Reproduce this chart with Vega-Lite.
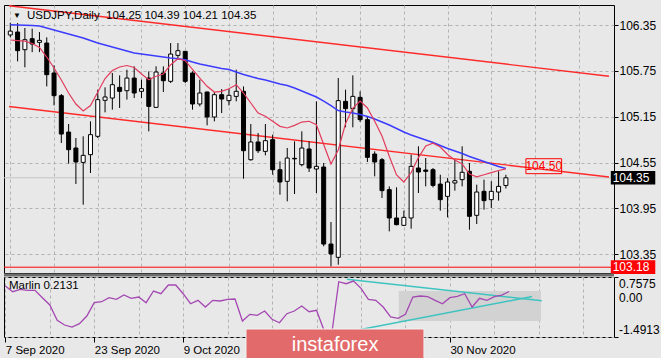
{
  "$schema": "https://vega.github.io/schema/vega-lite/v6.json",
  "background": "#e8e8e8",
  "padding": {"left": 2, "top": 2, "right": 0, "bottom": 0},
  "config": {"view": {"stroke": "#000000", "strokeWidth": 1}, "font": "Liberation Sans"},
  "datasets": {
    "one": [{}],
    "ohlc": [
      {"i":0,"o":106.22,"h":106.38,"l":106.19,"c":106.27,"f":106.154,"s":106.355,"m":0.42},
      {"i":1,"o":106.258,"h":106.376,"l":105.874,"c":106.014,"f":106.145,"s":106.351,"m":0.206},
      {"i":2,"o":106.027,"h":106.311,"l":105.796,"c":106.158,"f":106.138,"s":106.347,"m":0.296},
      {"i":3,"o":106.171,"h":106.302,"l":105.995,"c":106.101,"f":106.108,"s":106.343,"m":0.259},
      {"i":4,"o":106.123,"h":106.258,"l":105.995,"c":106.149,"f":106.056,"s":106.337,"m":0.259},
      {"i":5,"o":106.114,"h":106.189,"l":105.547,"c":105.70,"f":105.931,"s":106.311,"m":-0.019},
      {"i":6,"o":105.722,"h":105.822,"l":105.298,"c":105.425,"f":105.787,"s":106.285,"m":-0.292},
      {"i":7,"o":105.425,"h":105.447,"l":104.806,"c":104.923,"f":105.63,"s":106.258,"m":-0.866},
      {"i":8,"o":104.949,"h":105.054,"l":104.535,"c":104.718,"f":105.46,"s":106.232,"m":-1.042},
      {"i":9,"o":104.74,"h":104.871,"l":104.269,"c":104.557,"f":105.316,"s":106.206,"m":-1.117},
      {"i":10,"o":104.552,"h":104.893,"l":103.998,"c":104.644,"f":105.224,"s":106.18,"m":-0.993},
      {"i":11,"o":104.653,"h":105.089,"l":104.413,"c":104.915,"f":105.296,"s":106.147,"m":-0.705},
      {"i":12,"o":104.893,"h":105.504,"l":104.871,"c":105.373,"f":105.473,"s":106.114,"m":-0.206},
      {"i":13,"o":105.364,"h":105.534,"l":105.207,"c":105.408,"f":105.65,"s":106.088,"m":-0.169},
      {"i":14,"o":105.394,"h":105.722,"l":105.242,"c":105.569,"f":105.754,"s":106.062,"m":-0.019},
      {"i":15,"o":105.534,"h":105.691,"l":105.264,"c":105.482,"f":105.80,"s":106.036,"m":-0.079},
      {"i":16,"o":105.49,"h":105.765,"l":105.373,"c":105.656,"f":105.82,"s":106.01,"m":0.082},
      {"i":17,"o":105.656,"h":105.809,"l":105.394,"c":105.46,"f":105.794,"s":105.984,"m":-0.041},
      {"i":18,"o":105.482,"h":105.634,"l":105.394,"c":105.517,"f":105.709,"s":105.97,"m":0.007},
      {"i":19,"o":105.656,"h":105.743,"l":104.958,"c":105.285,"f":105.634,"s":105.957,"m":-0.206},
      {"i":20,"o":105.272,"h":105.809,"l":105.264,"c":105.735,"f":105.679,"s":105.944,"m":0.232},
      {"i":21,"o":105.722,"h":105.809,"l":105.473,"c":105.621,"f":105.709,"s":105.931,"m":0.131},
      {"i":22,"o":105.613,"h":106.114,"l":105.591,"c":105.97,"f":105.83,"s":105.918,"m":0.457},
      {"i":23,"o":105.953,"h":106.114,"l":105.909,"c":106.014,"f":105.909,"s":105.909,"m":0.457},
      {"i":24,"o":106.005,"h":106.01,"l":105.591,"c":105.613,"f":105.883,"s":105.896,"m":0.131},
      {"i":25,"o":105.722,"h":105.743,"l":105.242,"c":105.316,"f":105.768,"s":105.866,"m":-0.244},
      {"i":26,"o":105.316,"h":105.634,"l":105.285,"c":105.46,"f":105.656,"s":105.84,"m":-0.116},
      {"i":27,"o":105.473,"h":105.478,"l":105.037,"c":105.146,"f":105.548,"s":105.82,"m":-0.367},
      {"i":28,"o":105.146,"h":105.473,"l":105.089,"c":105.438,"f":105.473,"s":105.80,"m":-0.116},
      {"i":29,"o":105.438,"h":105.512,"l":105.198,"c":105.381,"f":105.482,"s":105.781,"m":-0.142},
      {"i":30,"o":105.36,"h":105.512,"l":105.298,"c":105.43,"f":105.516,"s":105.768,"m":-0.079},
      {"i":31,"o":105.416,"h":105.765,"l":105.351,"c":105.482,"f":105.569,"s":105.735,"m":-0.067},
      {"i":32,"o":105.482,"h":105.547,"l":104.339,"c":104.705,"f":105.46,"s":105.702,"m":-0.892},
      {"i":33,"o":104.587,"h":105.054,"l":104.574,"c":104.819,"f":105.329,"s":105.676,"m":-0.641},
      {"i":34,"o":104.819,"h":104.936,"l":104.675,"c":104.705,"f":105.198,"s":105.65,"m":-0.678},
      {"i":35,"o":104.696,"h":105.054,"l":104.644,"c":104.836,"f":105.155,"s":105.63,"m":-0.517},
      {"i":36,"o":104.849,"h":104.915,"l":104.391,"c":104.456,"f":105.09,"s":105.604,"m":-0.828},
      {"i":37,"o":104.456,"h":104.566,"l":104.129,"c":104.295,"f":105.024,"s":105.578,"m":-0.956},
      {"i":38,"o":104.304,"h":104.74,"l":104.042,"c":104.609,"f":105.002,"s":105.558,"m":-0.618},
      {"i":39,"o":104.605,"h":104.827,"l":104.138,"c":104.598,"f":105.037,"s":105.525,"m":-0.517},
      {"i":40,"o":104.522,"h":104.958,"l":104.5,"c":104.74,"f":105.08,"s":105.486,"m":-0.33},
      {"i":41,"o":104.727,"h":104.827,"l":104.426,"c":104.478,"f":105.09,"s":105.447,"m":-0.543},
      {"i":42,"o":104.465,"h":105.351,"l":104.151,"c":104.5,"f":105.045,"s":105.408,"m":-0.491},
      {"i":43,"o":104.491,"h":104.544,"l":103.453,"c":103.483,"f":104.786,"s":105.355,"m":-1.23},
      {"i":44,"o":103.483,"h":103.771,"l":103.191,"c":103.353,"f":104.531,"s":105.296,"m":-1.4913},
      {"i":45,"o":103.309,"h":105.656,"l":103.213,"c":105.36,"f":104.714,"s":105.231,"m":0.581},
      {"i":46,"o":105.351,"h":105.504,"l":105.011,"c":105.255,"f":105.061,"s":105.211,"m":0.506},
      {"i":47,"o":105.255,"h":105.691,"l":105.011,"c":105.416,"f":105.264,"s":105.198,"m":0.607},
      {"i":48,"o":105.403,"h":105.482,"l":105.08,"c":105.111,"f":105.355,"s":105.179,"m":0.334},
      {"i":49,"o":105.111,"h":105.154,"l":104.557,"c":104.618,"f":105.264,"s":105.152,"m":-0.079},
      {"i":50,"o":104.661,"h":104.696,"l":104.369,"c":104.557,"f":105.09,"s":105.12,"m":-0.116},
      {"i":51,"o":104.587,"h":104.609,"l":104.086,"c":104.182,"f":104.897,"s":105.08,"m":-0.367},
      {"i":52,"o":104.195,"h":104.238,"l":103.649,"c":103.824,"f":104.632,"s":105.041,"m":-0.742},
      {"i":53,"o":103.824,"h":104.225,"l":103.728,"c":103.737,"f":104.387,"s":104.995,"m":-0.791},
      {"i":54,"o":103.728,"h":103.92,"l":103.719,"c":103.832,"f":104.295,"s":104.949,"m":-0.641},
      {"i":55,"o":103.824,"h":104.653,"l":103.684,"c":104.5,"f":104.419,"s":104.91,"m":0.007},
      {"i":56,"o":104.478,"h":104.762,"l":104.151,"c":104.426,"f":104.615,"s":104.877,"m":0.045},
      {"i":57,"o":104.452,"h":104.609,"l":104.238,"c":104.435,"f":104.766,"s":104.845,"m":0.019},
      {"i":58,"o":104.456,"h":104.478,"l":104.225,"c":104.251,"f":104.803,"s":104.812,"m":-0.116},
      {"i":59,"o":104.268,"h":104.391,"l":103.92,"c":104.064,"f":104.753,"s":104.773,"m":-0.244},
      {"i":60,"o":104.107,"h":104.347,"l":103.832,"c":104.295,"f":104.655,"s":104.733,"m":-0.019},
      {"i":61,"o":104.282,"h":104.587,"l":104.182,"c":104.312,"f":104.583,"s":104.70,"m":0.034},
      {"i":62,"o":104.326,"h":104.762,"l":104.238,"c":104.422,"f":104.531,"s":104.668,"m":0.131},
      {"i":63,"o":104.435,"h":104.544,"l":103.671,"c":103.846,"f":104.40,"s":104.629,"m":-0.367},
      {"i":64,"o":103.859,"h":104.26,"l":103.745,"c":104.164,"f":104.363,"s":104.596,"m":-0.041},
      {"i":65,"o":104.173,"h":104.326,"l":103.933,"c":104.051,"f":104.39,"s":104.563,"m":-0.116},
      {"i":66,"o":104.064,"h":104.304,"l":103.954,"c":104.173,"f":104.417,"s":104.53,"m":0.019},
      {"i":67,"o":104.164,"h":104.435,"l":104.051,"c":104.238,"f":104.446,"s":104.498,"m":0.082},
      {"i":68,"o":104.25,"h":104.39,"l":104.21,"c":104.35,"f":104.468,"s":104.472,"m":0.2131}
    ],
    "chan": [
      {"i":-0.18,"p":106.603,"g":"u"},{"i":82.15,"p":105.68,"g":"u"},
      {"i":-0.18,"p":105.283,"g":"d"},{"i":82.15,"p":104.36,"g":"d"}
    ],
    "tl": [
      {"i":46.1,"v":0.671,"g":"a"},{"i":72.4,"v":-0.131,"g":"a"},
      {"i":44.1,"v":-1.417,"g":"b"},{"i":71.1,"v":0.026,"g":"b"}
    ],
    "box": [{"i1":53.1,"i2":72.3,"v1":0.232,"v2":-0.892}]
  },
  "vconcat": [
    {
      "width": 610,
      "height": 268,
      "layer": [
        {
          "data": {"name": "one"},
          "mark": {"type": "rule", "color": "#c4c4c4", "strokeWidth": 1},
          "encoding": {
            "y": {"datum": 104.35, "type": "quantitative", "title": null,
              "scale": {"domain": [103.104, 106.612], "nice": false, "zero": false},
              "axis": {"orient": "right", "values": [106.35, 105.75, 105.15, 104.55, 103.95, 103.35], "format": ".2f",
                "labelFont": "Liberation Sans", "labelFontSize": 12, "labelColor": "#000000", "labelPadding": 1,
                "tickSize": 4, "tickColor": "#000000", "grid": true, "gridDash": [3, 3], "gridColor": "#b3b3b3",
                "domain": false, "title": null, "labelOverlap": false}}
          }
        },
        {
          "data": {"name": "one"},
          "mark": {"type": "rule", "color": "#ff0000", "strokeWidth": 1},
          "encoding": {"y": {"datum": 103.18, "type": "quantitative", "title": null, "scale": {"domain": [103.104, 106.612], "nice": false, "zero": false}}}
        },
        {
          "data": {"name": "chan"},
          "mark": {"type": "line", "color": "#ff2a2a", "strokeWidth": 1.4},
          "encoding": {
            "x": {"field": "i", "type": "quantitative", "title": null,
              "scale": {"domain": [-0.18, 82.15], "nice": false, "zero": false},
              "axis": {"values": [0,6,12,18,24,30,36,42,48,54,60,66,72,78], "labels": false, "ticks": false, "domain": false,
                "grid": true, "gridDash": [3, 3], "gridColor": "#b3b3b3", "title": null}},
            "y": {"field": "p", "type": "quantitative", "title": null, "scale": {"domain": [103.104, 106.612], "nice": false, "zero": false}},
            "detail": {"field": "g"}
          }
        },
        {
          "data": {"name": "ohlc"},
          "mark": {"type": "rule", "color": "#000000", "strokeWidth": 1},
          "encoding": {
            "x": {"field": "i", "type": "quantitative", "title": null, "scale": {"domain": [-0.18, 82.15], "nice": false, "zero": false}},
            "y": {"field": "l", "type": "quantitative", "title": null, "scale": {"domain": [103.104, 106.612], "nice": false, "zero": false}},
            "y2": {"field": "h"}
          }
        },
        {
          "data": {"name": "ohlc"},
          "mark": {"type": "bar", "size": 4, "stroke": "#000000", "strokeWidth": 1},
          "encoding": {
            "x": {"field": "i", "type": "quantitative", "title": null, "scale": {"domain": [-0.18, 82.15], "nice": false, "zero": false}},
            "y": {"field": "o", "type": "quantitative", "title": null, "scale": {"domain": [103.104, 106.612], "nice": false, "zero": false}},
            "y2": {"field": "c"},
            "fill": {"condition": {"test": "datum.c < datum.o", "value": "#000000"}, "value": "#ffffff"}
          }
        },
        {
          "data": {"name": "ohlc"},
          "mark": {"type": "line", "color": "#3c3cff", "strokeWidth": 1.5},
          "encoding": {
            "x": {"field": "i", "type": "quantitative", "title": null, "scale": {"domain": [-0.18, 82.15], "nice": false, "zero": false}},
            "y": {"field": "s", "type": "quantitative", "title": null, "scale": {"domain": [103.104, 106.612], "nice": false, "zero": false}}
          }
        },
        {
          "data": {"name": "ohlc"},
          "mark": {"type": "line", "color": "#e33b5c", "strokeWidth": 1.2},
          "encoding": {
            "x": {"field": "i", "type": "quantitative", "title": null, "scale": {"domain": [-0.18, 82.15], "nice": false, "zero": false}},
            "y": {"field": "f", "type": "quantitative", "title": null, "scale": {"domain": [103.104, 106.612], "nice": false, "zero": false}}
          }
        },
        {
          "data": {"name": "one"},
          "mark": {"type": "rect", "fillOpacity": 0, "stroke": "#ff0000", "strokeWidth": 1},
          "encoding": {
            "x": {"datum": 70.75, "type": "quantitative", "title": null, "scale": {"domain": [-0.18, 82.15], "nice": false, "zero": false}},
            "x2": {"datum": 75.65},
            "y": {"datum": 104.404, "type": "quantitative", "title": null, "scale": {"domain": [103.104, 106.612], "nice": false, "zero": false}},
            "y2": {"datum": 104.60}
          }
        },
        {
          "data": {"name": "one"},
          "mark": {"type": "text", "text": "104.50", "color": "#ff0000", "font": "Liberation Sans", "fontSize": 12, "align": "center", "baseline": "middle"},
          "encoding": {
            "x": {"datum": 73.2, "type": "quantitative", "title": null, "scale": {"domain": [-0.18, 82.15], "nice": false, "zero": false}},
            "y": {"datum": 104.50, "type": "quantitative", "title": null, "scale": {"domain": [103.104, 106.612], "nice": false, "zero": false}}
          }
        },
        {
          "data": {"name": "one"},
          "mark": {"type": "rect", "fill": "#000000", "clip": false},
          "encoding": {
            "x": {"datum": 82.4, "type": "quantitative", "title": null, "scale": {"domain": [-0.18, 82.15], "nice": false, "zero": false}},
            "x2": {"datum": 88.5},
            "y": {"datum": 104.262, "type": "quantitative", "title": null, "scale": {"domain": [103.104, 106.612], "nice": false, "zero": false}},
            "y2": {"datum": 104.438}
          }
        },
        {
          "data": {"name": "one"},
          "mark": {"type": "text", "text": "104.35", "color": "#ffffff", "font": "Liberation Sans", "fontSize": 12, "align": "left", "baseline": "middle", "clip": false},
          "encoding": {
            "x": {"datum": 82.65, "type": "quantitative", "title": null, "scale": {"domain": [-0.18, 82.15], "nice": false, "zero": false}},
            "y": {"datum": 104.35, "type": "quantitative", "title": null, "scale": {"domain": [103.104, 106.612], "nice": false, "zero": false}}
          }
        },
        {
          "data": {"name": "one"},
          "mark": {"type": "rect", "fill": "#ff0000", "clip": false},
          "encoding": {
            "x": {"datum": 82.4, "type": "quantitative", "title": null, "scale": {"domain": [-0.18, 82.15], "nice": false, "zero": false}},
            "x2": {"datum": 88.5},
            "y": {"datum": 103.09, "type": "quantitative", "title": null, "scale": {"domain": [103.104, 106.612], "nice": false, "zero": false}},
            "y2": {"datum": 103.27}
          }
        },
        {
          "data": {"name": "one"},
          "mark": {"type": "text", "text": "103.18", "color": "#ffffff", "font": "Liberation Sans", "fontSize": 12, "align": "left", "baseline": "middle", "clip": false},
          "encoding": {
            "x": {"datum": 82.65, "type": "quantitative", "title": null, "scale": {"domain": [-0.18, 82.15], "nice": false, "zero": false}},
            "y": {"datum": 103.18, "type": "quantitative", "title": null, "scale": {"domain": [103.104, 106.612], "nice": false, "zero": false}}
          }
        },
        {
          "data": {"name": "one"},
          "mark": {"type": "text", "text": "▼", "color": "#000000", "fontSize": 8, "align": "left", "baseline": "middle", "dx": 4},
          "encoding": {
            "x": {"datum": -0.18, "type": "quantitative", "title": null, "scale": {"domain": [-0.18, 82.15], "nice": false, "zero": false}},
            "y": {"datum": 106.47, "type": "quantitative", "title": null, "scale": {"domain": [103.104, 106.612], "nice": false, "zero": false}}
          }
        },
        {
          "data": {"name": "one"},
          "mark": {"type": "text", "text": "USDJPY,Daily\u00a0\u00a0104.25 104.39 104.21 104.35", "color": "#000000", "font": "Liberation Sans", "fontSize": 11.5, "align": "left", "baseline": "middle", "dx": 18},
          "encoding": {
            "x": {"datum": -0.18, "type": "quantitative", "title": null, "scale": {"domain": [-0.18, 82.15], "nice": false, "zero": false}},
            "y": {"datum": 106.47, "type": "quantitative", "title": null, "scale": {"domain": [103.104, 106.612], "nice": false, "zero": false}}
          }
        }
      ]
    },
    {
      "width": 610,
      "height": 60,
      "layer": [
        {
          "data": {"name": "box"},
          "mark": {"type": "rect", "fill": "#d2d2d2"},
          "encoding": {
            "x": {"field": "i1", "type": "quantitative", "title": null,
              "scale": {"domain": [-0.18, 82.15], "nice": false, "zero": false},
              "axis": {"orient": "bottom", "values": [0,6,12,18,24,30,36,42,48,54,60,66,72,78],
                "labelExpr": "datum.value==0?'7 Sep 2020':datum.value==12?'23 Sep 2020':datum.value==24?'9 Oct 2020':datum.value==60?'30 Nov 2020':''",
                "labelAlign": "left", "labelFont": "Liberation Sans", "labelFontSize": 11.5, "labelColor": "#000000",
                "labelPadding": 2, "labelOverlap": false, "labelBound": false, "tickSize": 5, "tickColor": "#000000",
                "tickOpacity": {"condition": {"test": "datum.value == 0 || datum.value == 12 || datum.value == 24 || datum.value == 60", "value": 1}, "value": 0},
                "grid": true, "gridDash": [3, 3], "gridColor": "#b3b3b3", "domain": false, "title": null}},
            "x2": {"field": "i2"},
            "y": {"field": "v1", "type": "quantitative", "title": null,
              "scale": {"domain": [-1.4913, 0.7575], "nice": false, "zero": false},
              "axis": {"orient": "right", "values": [0.7575, 0, -1.4913], "labels": false,
                "tickSize": 4, "tickColor": "#000000", "grid": true, "gridDash": [3, 3], "gridColor": "#b3b3b3",
                "domain": false, "title": null}},
            "y2": {"field": "v2"}
          }
        },
        {
          "data": {"name": "tl"},
          "mark": {"type": "line", "color": "#3ec4c0", "strokeWidth": 1.5, "clip": true},
          "encoding": {
            "x": {"field": "i", "type": "quantitative", "title": null, "scale": {"domain": [-0.18, 82.15], "nice": false, "zero": false}},
            "y": {"field": "v", "type": "quantitative", "title": null, "scale": {"domain": [-1.4913, 0.7575], "nice": false, "zero": false}},
            "detail": {"field": "g"}
          }
        },
        {
          "data": {"name": "ohlc"},
          "mark": {"type": "line", "color": "#a448b2", "strokeWidth": 1.3},
          "encoding": {
            "x": {"field": "i", "type": "quantitative", "title": null, "scale": {"domain": [-0.18, 82.15], "nice": false, "zero": false}},
            "y": {"field": "m", "type": "quantitative", "title": null, "scale": {"domain": [-1.4913, 0.7575], "nice": false, "zero": false}}
          }
        },
        {
          "data": {"name": "one"},
          "mark": {"type": "text", "text": "Marlin 0.2131", "color": "#000000", "font": "Liberation Sans", "fontSize": 11.5, "align": "left", "baseline": "middle", "dx": 5},
          "encoding": {
            "x": {"datum": -0.18, "type": "quantitative", "title": null, "scale": {"domain": [-0.18, 82.15], "nice": false, "zero": false}},
            "y": {"datum": 0.42, "type": "quantitative", "title": null, "scale": {"domain": [-1.4913, 0.7575], "nice": false, "zero": false}}
          }
        },
        {
          "data": {"name": "one"},
          "mark": {"type": "text", "text": "0.7575", "color": "#000000", "font": "Liberation Sans", "fontSize": 12, "align": "left", "baseline": "top", "dx": 5, "dy": 2, "clip": false},
          "encoding": {
            "x": {"datum": 82.15, "type": "quantitative", "title": null, "scale": {"domain": [-0.18, 82.15], "nice": false, "zero": false}},
            "y": {"datum": 0.7575, "type": "quantitative", "title": null, "scale": {"domain": [-1.4913, 0.7575], "nice": false, "zero": false}}
          }
        },
        {
          "data": {"name": "one"},
          "mark": {"type": "text", "text": "0.00", "color": "#000000", "font": "Liberation Sans", "fontSize": 12, "align": "left", "baseline": "middle", "dx": 5, "dy": 1, "clip": false},
          "encoding": {
            "x": {"datum": 82.15, "type": "quantitative", "title": null, "scale": {"domain": [-0.18, 82.15], "nice": false, "zero": false}},
            "y": {"datum": 0, "type": "quantitative", "title": null, "scale": {"domain": [-1.4913, 0.7575], "nice": false, "zero": false}}
          }
        },
        {
          "data": {"name": "one"},
          "mark": {"type": "text", "text": "-1.4913", "color": "#000000", "font": "Liberation Sans", "fontSize": 12, "align": "left", "baseline": "bottom", "dx": 5, "dy": 0, "clip": false},
          "encoding": {
            "x": {"datum": 82.15, "type": "quantitative", "title": null, "scale": {"domain": [-0.18, 82.15], "nice": false, "zero": false}},
            "y": {"datum": -1.4913, "type": "quantitative", "title": null, "scale": {"domain": [-1.4913, 0.7575], "nice": false, "zero": false}}
          }
        },
        {
          "data": {"name": "one"},
          "mark": {"type": "rule", "color": "#6e6e6e", "strokeWidth": 3, "yOffset": -2},
          "encoding": {"y": {"datum": 0.7575, "type": "quantitative", "title": null, "scale": {"domain": [-1.4913, 0.7575], "nice": false, "zero": false}}}
        },
        {
          "data": {"name": "one"},
          "mark": {"type": "rect", "fill": "#e26a6a", "stroke": "#f2f2f2", "strokeWidth": 1, "clip": false},
          "encoding": {
            "x": {"datum": 32.48, "type": "quantitative", "title": null, "scale": {"domain": [-0.18, 82.15], "nice": false, "zero": false}},
            "x2": {"datum": 56.5},
            "y": {"datum": -1.192, "type": "quantitative", "title": null, "scale": {"domain": [-1.4913, 0.7575], "nice": false, "zero": false}},
            "y2": {"datum": -2.35}
          }
        },
        {
          "data": {"name": "one"},
          "mark": {"type": "text", "text": "instaforex", "color": "#ffffff", "font": "Liberation Sans", "fontSize": 20, "align": "center", "baseline": "middle", "clip": false},
          "encoding": {
            "x": {"datum": 44.5, "type": "quantitative", "title": null, "scale": {"domain": [-0.18, 82.15], "nice": false, "zero": false}},
            "y": {"datum": -1.79, "type": "quantitative", "title": null, "scale": {"domain": [-1.4913, 0.7575], "nice": false, "zero": false}}
          }
        }
      ]
    }
  ],
  "spacing": 4,
  "bounds": "flush"
}
